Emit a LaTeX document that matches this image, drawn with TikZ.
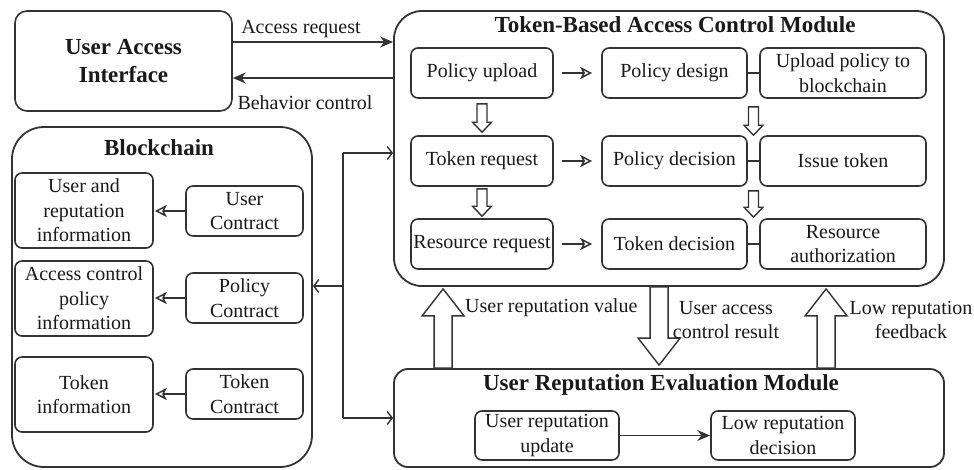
\documentclass[tikz,border=0pt]{standalone}
\usepackage{fontspec}
\setmainfont{Liberation Serif}
\usetikzlibrary{arrows.meta,calc}

\newcommand\bodyfont{\fontsize{20}{24.5}\selectfont}
\newcommand\titlefont{\fontsize{23}{28}\selectfont\bfseries}

% hollow block arrow: from, to, shaft half-width, head half-width, head length
\newcommand\hollowarrow[5]{%
  \draw[hollow] let \p1=(#1), \p2=(#2), \n1={sign(\y2-\y1)}, \n2={\y2-(\n1)*(#5)} in
    ({\x1-#3},\y1) -- ({\x1-#3},\n2) -- ({\x1-#4},\n2) -- (\x1,\y2)
    -- ({\x1+#4},\n2) -- ({\x1+#3},\n2) -- ({\x1+#3},\y1) -- cycle;}

\begin{document}
\begin{tikzpicture}[x=1pt,y=-1pt,
  box/.style={draw=black!80, line width=1.6pt, rounded corners=7pt, align=center,
    inner sep=0pt, text=black!90, font=\bodyfont},
  ttl/.style={font=\titlefont, text=black!90, inner sep=0pt},
  lbl/.style={font=\bodyfont, text=black!90, align=center, inner sep=0pt},
  plain/.style={draw=black!80, line width=1.6pt},
  solidarr/.style={draw=black!80, line width=1.6pt, -{Stealth[length=13pt,width=11pt]}},
  openarr/.style={draw=black!80, line width=1.5pt, -{Stealth[open,length=12pt,width=12pt,inset=3pt]}},
  busarr/.style={draw=black!80, line width=1.4pt, -{Straight Barb[length=5pt,width=13pt]}},
  hollow/.style={draw=black!80, line width=1.4pt, fill=white, line join=miter},
]
\useasboundingbox (0,0) rectangle (974,469);

% ---------- user access interface ----------
\node[box, rounded corners=12pt, minimum width=217pt, minimum height=100pt, font=\titlefont]
  (uai) at (123.5,61) {User Access\\Interface};

% ---------- token-based access control module ----------
\node[box, rounded corners=28pt, line width=1.8pt, minimum width=550pt, minimum height=275pt]
  (tm) at (669,148.5) {};
\node[ttl] (tmt) at (675,25) {Token-Based Access Control Module};

\node[box, minimum width=142pt, minimum height=50pt] (pu) at (482,73)  {Policy upload};
\node[box, minimum width=142pt, minimum height=50pt] (tr) at (482,161) {Token request};
\node[box, minimum width=142pt, minimum height=50pt] (rr) at (482,244) {Resource request};

\node[box, minimum width=145pt, minimum height=50pt] (pd) at (674.5,73)  {Policy design};
\node[box, minimum width=145pt, minimum height=50pt] (pc) at (674.5,161) {Policy decision};
\node[box, minimum width=145pt, minimum height=50pt] (td) at (674.5,244) {Token decision};

\node[box, minimum width=166pt, minimum height=50pt] (ub) at (843,73)  {Upload policy to\\blockchain};
\node[box, minimum width=166pt, minimum height=50pt] (it) at (843,161) {Issue token};
\node[box, minimum width=166pt, minimum height=50pt] (ra) at (843,244) {Resource\\authorization};

\draw[openarr, shorten <=8pt, shorten >=9pt] (pu) -- (pd);
\draw[openarr, shorten <=8pt, shorten >=9pt] (tr) -- (pc);
\draw[openarr, shorten <=8pt, shorten >=9pt] (rr) -- (td);

\draw[plain] (pd.east) -- (ub.west);
\draw[plain] (pc.east) -- (it.west);
\draw[plain] (td.east) -- (ra.west);

\hollowarrow{[yshift=-5pt]pu.south}{[yshift=3pt]tr.north}{5pt}{9.5pt}{10pt}
\hollowarrow{[yshift=-2pt]tr.south}{[yshift=2pt]rr.north}{5pt}{9.5pt}{10pt}
\hollowarrow{[yshift=-8pt]$(pd.south east)!.5!(ub.south west)$}{$(pc.north east)!.5!(it.north west)$}{5pt}{9.5pt}{10pt}
\hollowarrow{[yshift=-4pt]$(pc.south east)!.5!(it.south west)$}{[yshift=1pt]$(td.north east)!.5!(ra.north west)$}{5pt}{9.5pt}{10pt}

% ---------- user access interface <-> module ----------
\draw[solidarr] ([yshift=19pt]uai.east) -- ([yshift=19pt]uai.east -| tm.west);
\draw[solidarr] ([yshift=-17pt]uai.east -| tm.west) -- ([yshift=-17pt]uai.east);
\node[lbl] (lar) at (301,29)  {Access request};
\node[lbl] (lbc) at (305,103) {Behavior control};

% ---------- blockchain ----------
\node[box, rounded corners=32pt, line width=1.8pt, minimum width=300pt, minimum height=340pt]
  (bc) at (162,297) {};
\node[ttl] (bct) at (159,148) {Blockchain};

\node[box, minimum width=138pt, minimum height=75pt] (uri) at (84,210.5) {User and\\reputation\\information};
\node[box, minimum width=138pt, minimum height=75pt] (api) at (84,298.5) {Access control\\policy\\information};
\node[box, minimum width=138pt, minimum height=75pt] (tki) at (84,394.5) {Token\\information};

\node[box, minimum width=117pt, minimum height=50pt] (uc) at (244.5,211) {User\\Contract};
\node[box, minimum width=117pt, minimum height=50pt] (pcn) at (244.5,298) {Policy\\Contract};
\node[box, minimum width=117pt, minimum height=50pt] (tc) at (244.5,394) {Token\\Contract};

\draw[openarr, shorten >=1pt] (uc.west) -- (uc.west -| uri.east);
\draw[openarr, shorten >=1pt] (pcn.west) -- (pcn.west -| api.east);
\draw[openarr, shorten >=1pt] (tc.west) -- (tc.west -| tki.east);

% ---------- user reputation evaluation module ----------
\node[box, rounded corners=14pt, line width=1.8pt, minimum width=550pt, minimum height=98pt]
  (rm) at (669,418) {};
\node[ttl] (rmt) at (661,385) {User Reputation Evaluation Module};

\node[box, minimum width=144pt, minimum height=49pt] (rup) at (547,435.5) {User reputation\\update};
\node[box, minimum width=144pt, minimum height=49pt] (lrd) at (783,435.5) {Low reputation\\decision};
\draw[solidarr] (rup) -- (lrd);

% ---------- bus from blockchain to both modules ----------
\coordinate (bt) at (343,153);
\coordinate (bm) at (343,286);
\coordinate (bb) at (343,418);
\draw[plain, line width=1.4pt] (bt) -- (bb);
\draw[busarr] (bt) -- (bt -| tm.west);
\draw[busarr] (bm) -- (bm -| bc.east);
\draw[busarr] (bb) -- (rm.west);

% ---------- module <-> module block arrows ----------
\hollowarrow{[xshift=50pt]rm.north west}{[xshift=50pt,yshift=-2pt]tm.south west}{9pt}{21pt}{27pt}
\hollowarrow{[xshift=266pt]tm.south west}{[xshift=266pt,yshift=3pt]rm.north west}{9pt}{21pt}{27pt}
\hollowarrow{[xshift=433pt]rm.north west}{[xshift=433pt,yshift=-2pt]tm.south west}{9pt}{21pt}{27pt}

\node[lbl, anchor=west] (lrv) at (465,308) {User reputation value};
\node[lbl] (lac) at (726,320) {User access\\control result};
\node[lbl] (llr) at (911,320) {Low reputation\\feedback};
\end{tikzpicture}
\end{document}
